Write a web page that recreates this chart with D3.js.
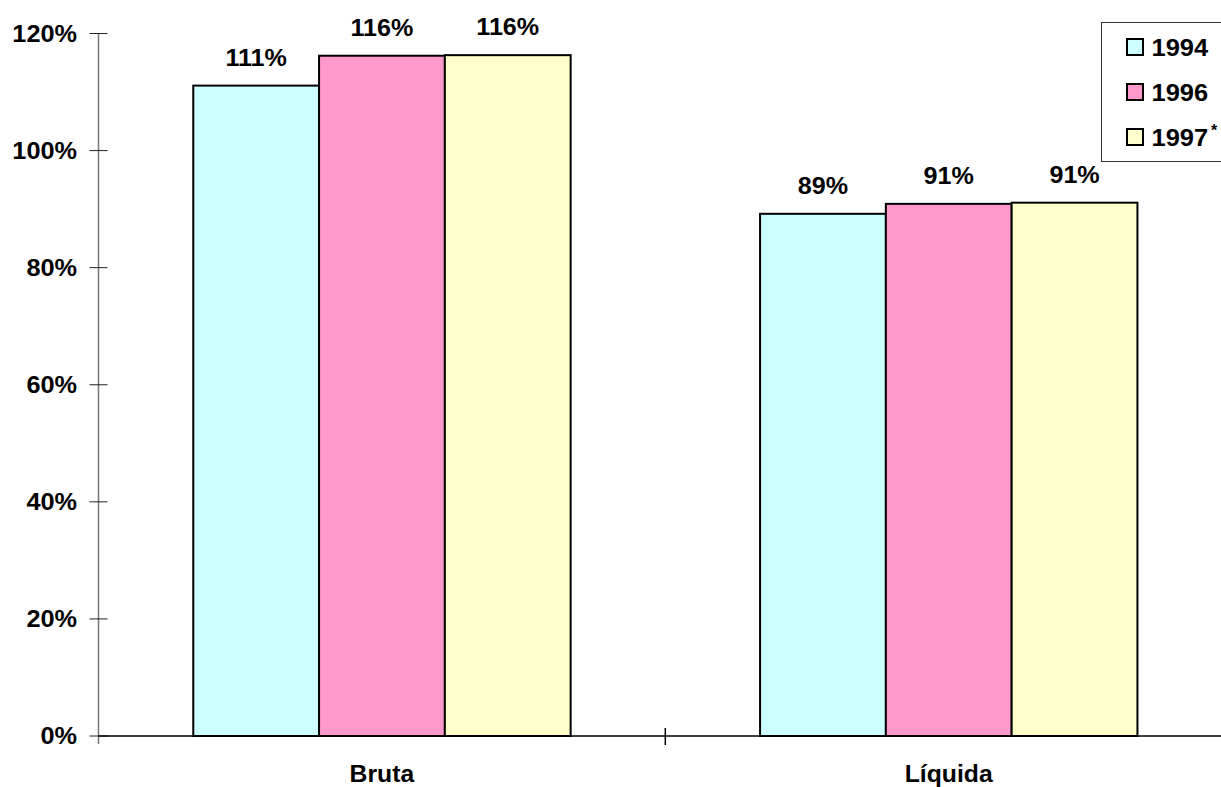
<!DOCTYPE html>
<html>
<head>
<meta charset="utf-8">
<script src="https://cdn.jsdelivr.net/npm/d3@7"></script>
<style>
  html, body { margin: 0; padding: 0; background: #fff; overflow: hidden; }
  svg { display: block; font-family: "Liberation Sans", Arial, Helvetica, sans-serif; font-weight: bold; }
</style>
</head>
<body>
<svg id="chart" width="1221" height="787"></svg>
<script>
// Gross and net rates by year
const categories = ["Bruta", "Líquida"];
const years = ["1994", "1996", "1997"];
const values1994 = [1.111, 0.892];
const values1996 = [1.162, 0.909];
const values1997 = [1.163, 0.911];
const yTicks = [0, 0.2, 0.4, 0.6, 0.8, 1.0, 1.2];
const colors = ["#CCFFFF", "#FF99CC", "#FFFFCC"];

const seriesValues = [values1994, values1996, values1997];
const rows = categories.flatMap((c, ci) =>
  years.map((yr, yi) => ({ category: c, year: yr, value: seriesValues[yi][ci], color: colors[yi] })));

const svg = d3.select("#chart");
const pct = d3.format(".0%");

const axisLeft = 98.5, axisBottom = 736, axisTop = 33.5;
const y = d3.scaleLinear().domain([0, 1.2]).range([axisBottom, axisTop]);
const x = d3.scaleBand().domain(categories).range([axisLeft, axisLeft + 2 * 566.8]).padding(0);
const xi = d3.scaleBand().domain(years)
  .range([x.bandwidth() * 0.1672, x.bandwidth() * 0.833]).padding(0);

// Horizontally stretched bold text
function label(sel, px, py, txt, size, anchor, sx) {
  return sel.append("text")
    .attr("transform", `translate(${px},${py}) scale(${sx},1)`)
    .attr("text-anchor", anchor)
    .attr("font-size", size)
    .attr("fill", "#000")
    .text(txt);
}

// Y axis
svg.append("line")
  .attr("x1", axisLeft).attr("x2", axisLeft)
  .attr("y1", y(1.2)).attr("y2", axisBottom + 8)
  .attr("stroke", "#777").attr("stroke-width", 1.5);
yTicks.forEach(t => {
  svg.append("line")
    .attr("x1", axisLeft - 9).attr("x2", axisLeft + 9)
    .attr("y1", y(t)).attr("y2", y(t))
    .attr("stroke", "#222").attr("stroke-width", 1);
  label(svg, 77, y(t) + 8.2, pct(t), 23, "end", 1.1);
});

// X axis
svg.append("line")
  .attr("x1", axisLeft).attr("x2", 1221)
  .attr("y1", axisBottom).attr("y2", axisBottom)
  .attr("stroke", "#000").attr("stroke-width", 1.5);
categories.slice(1).forEach(c => {
  svg.append("line")
    .attr("x1", x(c)).attr("x2", x(c))
    .attr("y1", axisBottom - 8).attr("y2", axisBottom + 9)
    .attr("stroke", "#000").attr("stroke-width", 1.5);
});
categories.forEach(c => {
  label(svg, x(c) + x.bandwidth() / 2, 782, c, 24, "middle", 1.03);
});

// Bars
svg.append("g").selectAll("rect").data(rows).join("rect")
  .attr("x", d => x(d.category) + xi(d.year))
  .attr("y", d => y(d.value))
  .attr("width", xi.bandwidth())
  .attr("height", d => y(0) - y(d.value))
  .attr("fill", d => d.color)
  .attr("stroke", "#000")
  .attr("stroke-width", 2);

// Value labels
rows.forEach(d => {
  label(svg, x(d.category) + xi(d.year) + xi.bandwidth() / 2, y(d.value) - 20, pct(d.value), 23.5, "middle", 1.07);
});

// Legend
const lg = svg.append("g");
lg.append("rect")
  .attr("x", 1101.5).attr("y", 22.5).attr("width", 140).attr("height", 139)
  .attr("fill", "#fff").attr("stroke", "#333").attr("stroke-width", 1);
years.forEach((yr, i) => {
  const cy = 47 + i * 45;
  lg.append("rect")
    .attr("x", 1127).attr("y", cy - 8).attr("width", 16).attr("height", 16)
    .attr("fill", colors[i]).attr("stroke", "#000").attr("stroke-width", 2);
  label(lg, 1151.5, cy + 8.8, yr, 24.5, "start", 1.04);
  if (i === 2) {
    lg.append("text").attr("x", 1211).attr("y", cy - 1)
      .attr("font-size", 16).attr("fill", "#000").text("*");
  }
});
</script>
</body>
</html>
